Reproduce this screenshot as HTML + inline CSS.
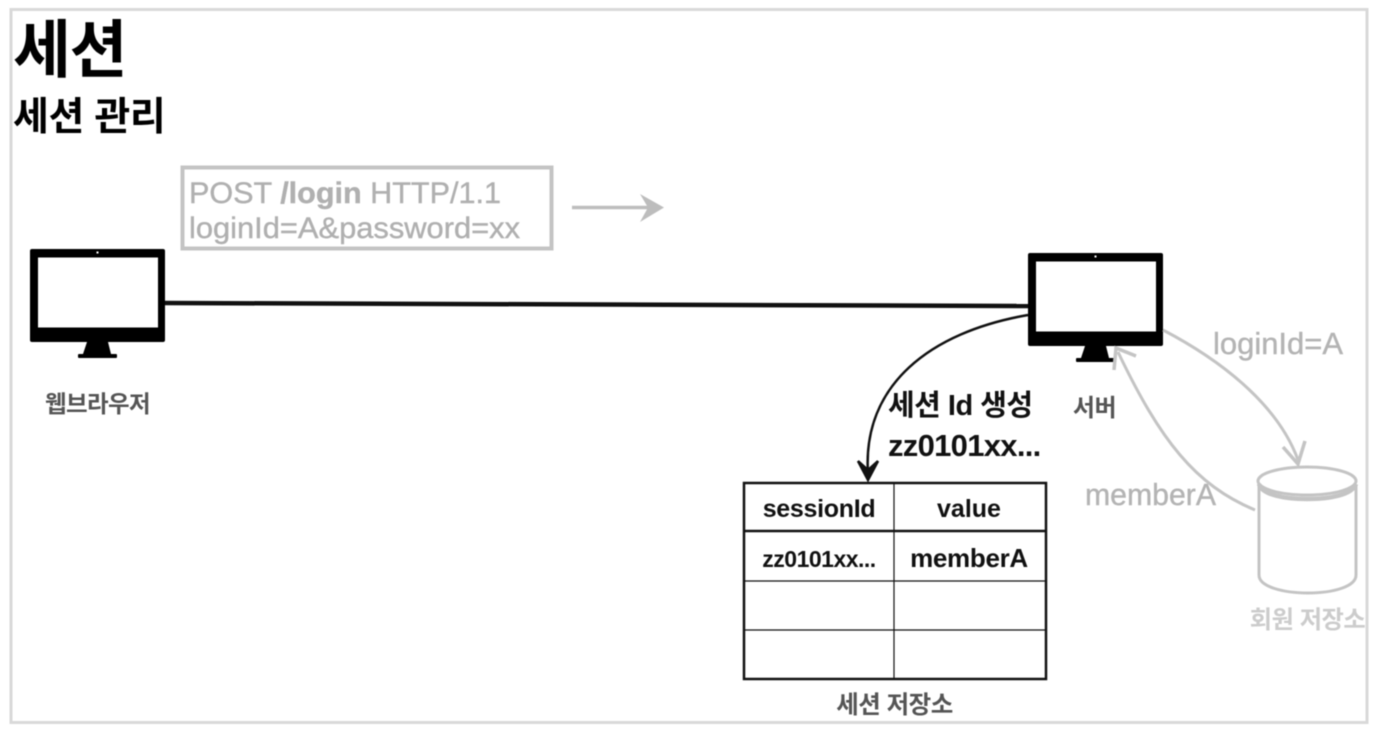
<!DOCTYPE html>
<html><head><meta charset="utf-8"><style>
html,body{margin:0;padding:0;background:#fff;width:1376px;height:738px;overflow:hidden}
svg{display:block;filter:blur(.6px)}
text{font-family:"Liberation Sans","Noto Sans CJK KR",sans-serif}
</style></head><body>
<svg width="1376" height="738" viewBox="0 0 1376 738" xmlns="http://www.w3.org/2000/svg">
<defs>
<g id="mon">
<rect x="0" y="0" width="135" height="93" rx="2" fill="#000"/>
<rect x="8" y="8.500" width="120" height="70" fill="#fff"/>
<rect x="66.500" y="2.500" width="2" height="2" fill="#fff"/>
<path d="M57 93H78L81 105H53Z" fill="#000"/>
<rect x="48" y="105" width="39" height="4" rx="1" fill="#000"/>
</g>
</defs>
<rect x="11" y="9.500" width="1356" height="713" fill="#fff" stroke="#d9d9d9" stroke-width="3"/>
<text x="13" y="72" font-size="63" font-weight="700" fill="#000" letter-spacing="-1.500">세션</text>
<text x="13" y="130" font-size="39" font-weight="700" fill="#000" letter-spacing="-.4">세션 관리</text>

<rect x="182.500" y="167.500" width="369" height="81" fill="#fff" stroke="#c4c4c4" stroke-width="4"/>
<text x="189" y="203" font-size="30" fill="#b0b0b0" stroke="#b0b0b0" stroke-width=".4" textLength="312" lengthAdjust="spacingAndGlyphs">POST <tspan font-weight="700">/login</tspan> HTTP/1.1</text>
<text x="189" y="238" font-size="30" fill="#b0b0b0" stroke="#b0b0b0" stroke-width=".4" textLength="331" lengthAdjust="spacingAndGlyphs">loginId=A&amp;password=xx</text>
<path d="M572 207.500H660" stroke="#bdbdbd" stroke-width="3.500" fill="none"/>
<path d="M640 194L664 207.500L640 222L648 207.500Z" fill="#bdbdbd"/>

<use href="#mon" x="30" y="249"/>
<use href="#mon" x="1028" y="253"/>
<path d="M165 303L1028 306" stroke="#111" stroke-width="4.500" fill="none"/>

<text x="97.500" y="412" font-size="23.500" font-weight="700" fill="#555" text-anchor="middle" letter-spacing="-.6">웹브라우저</text>
<text x="1094.500" y="416" font-size="24" font-weight="700" fill="#555" text-anchor="middle" letter-spacing="-.5">서버</text>

<path d="M1028 315C930 332 862 385 868 474" stroke="#111" stroke-width="2.500" fill="none"/>
<path d="M858 461L868 480L878 461L868 470Z" stroke="#111" stroke-width="2.500" fill="#111"/>
<text x="888" y="415" font-size="29" font-weight="700" fill="#111" letter-spacing="-.5">세션 Id 생성</text>
<text x="888" y="456" font-size="31" font-weight="700" fill="#111" letter-spacing="-.7">zz0101xx...</text>

<g stroke="#111" fill="none">
<rect x="744" y="483" width="302" height="196" stroke-width="2.500"/>
<path d="M894 483V679" stroke-width="1.200"/>
<path d="M744 531H1046" stroke-width="2.500"/>
<path d="M744 581H1046M744 630H1046" stroke-width="1.200"/>
</g>
<text x="819" y="517" font-size="25" font-weight="700" fill="#111" text-anchor="middle" letter-spacing="-.3">sessionId</text>
<text x="969" y="517" font-size="25" font-weight="700" fill="#111" text-anchor="middle">value</text>
<text x="819" y="567" font-size="23" font-weight="700" fill="#111" text-anchor="middle" letter-spacing="-.5">zz0101xx...</text>
<text x="969" y="567" font-size="26" font-weight="700" fill="#111" text-anchor="middle" letter-spacing="-.3">memberA</text>
<text x="894.500" y="713" font-size="24.500" font-weight="700" fill="#555" text-anchor="middle" letter-spacing="-.5">세션 저장소</text>

<g stroke="#c4c4c4" fill="none">
<path d="M1163 330C1230 365 1280 410 1298 460" stroke-width="3"/>
<path d="M1283 447L1298 464L1305 441" stroke-width="3.500"/>
<path d="M1255 510C1195 485 1160 440 1118 352" stroke-width="3"/>
<path d="M1114 370L1116 348L1136 356" stroke-width="3.500"/>
<path d="M1259 485V575C1259 587 1284 593 1308 593C1332 593 1356 587 1356 575V485" stroke-width="3"/>
<ellipse cx="1307" cy="481" rx="49" ry="14" stroke-width="3"/>
<path d="M1259 484C1262 495 1285 499 1307 499C1330 499 1352 495 1356 484" stroke-width="4.500"/>
</g>
<text x="1213" y="354" font-size="31" fill="#b4b4b4" stroke="#b4b4b4" stroke-width=".4" textLength="130" lengthAdjust="spacingAndGlyphs">loginId=A</text>
<text x="1085" y="505" font-size="30.500" fill="#b4b4b4" stroke="#b4b4b4" stroke-width=".4" textLength="131" lengthAdjust="spacingAndGlyphs">memberA</text>
<text x="1307.500" y="628" font-size="24.300" font-weight="700" fill="#ccc" text-anchor="middle" letter-spacing="-.5">회원 저장소</text>
</svg>
</body></html>
